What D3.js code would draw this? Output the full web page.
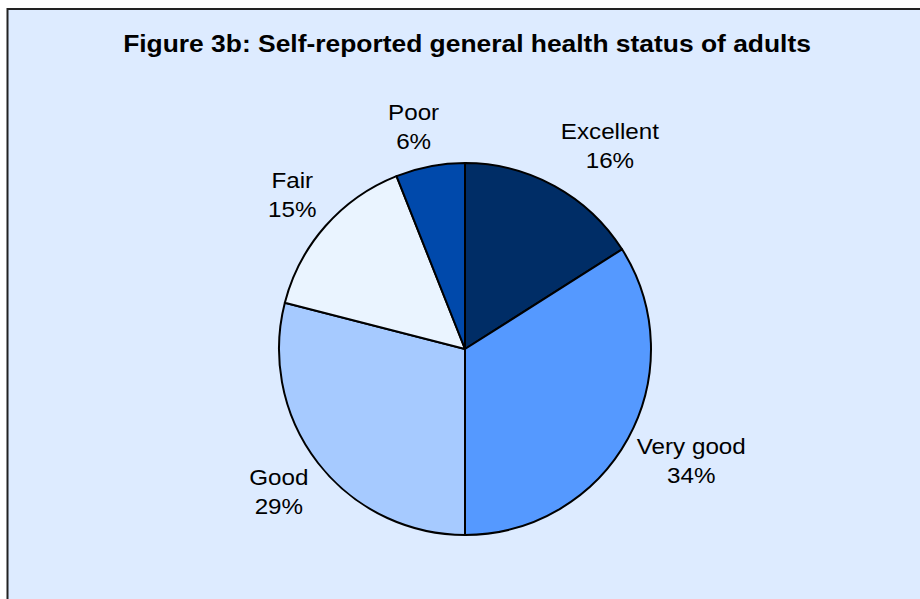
<!DOCTYPE html>
<html>
<head>
<meta charset="utf-8">
<script src="https://cdn.jsdelivr.net/npm/d3@7"></script>
<style>
  body { margin: 0; background: #fff; }
  text { font-family: Arial, "Liberation Sans", sans-serif; fill: #000; }
</style>
</head>
<body>
<div id="chart"></div>
<script>
(function () {

  // Data
  const categories = ["Excellent", "Very good", "Good", "Fair", "Poor"]
  const percents = [16, 34, 29, 15, 6]
  const colors = ["#002D66", "#5599FF", "#A6CAFF", "#EAF4FF", "#0049AB"]
  // small nudges for label placement (Excel style)
  const labelNudge = [[22, 1], [-2, 0], [0, 0], [0, 0], [-8, 7]]

  const width = 920
  const height = 599
  const stretch = 1.1 // text in the original is a bit wide

  const svg = d3.select("#chart").append("svg")
      .attr("width", width)
      .attr("height", height)

  // Chart area panel
  svg.append("rect")
    .attr("x", 7.5)
    .attr("y", 9)
    .attr("width", width)
    .attr("height", height)
    .attr("fill", "#DDEBFF")
    .attr("stroke", "#222")
    .attr("stroke-width", 2)

  // Title
  svg.append("g")
    .attr("transform", "translate(467,52) scale(" + stretch + ",1)")
    .append("text")
    .attr("text-anchor", "middle")
    .style("font-size", "24px")
    .style("font-weight", "bold")
    .text("Figure 3b: Self-reported general health status of adults")

  const cx = 465
  const cy = 349
  const radius = 186

  const pie = d3.pie().sort(null).value(d => d.value)
  const arc = d3.arc().innerRadius(0).outerRadius(radius)

  const data = categories.map((c, i) => ({ name: c, value: percents[i], color: colors[i], nudge: labelNudge[i] }))
  const arcs = pie(data)

  const g = svg.append("g")
    .attr("transform", "translate(" + cx + "," + cy + ")")

  g.selectAll("path")
    .data(arcs)
    .join("path")
    .attr("d", arc)
    .attr("fill", d => d.data.color)
    .attr("stroke", "#000")
    .attr("stroke-width", 2)
    .attr("stroke-linejoin", "round")

  // Labels outside the pie
  const pad = 20
  const lineH = 29
  const labels = g.selectAll("g.label")
    .data(arcs)
    .join("g")
    .attr("class", "label")

  labels.each(function (d) {
    const sel = d3.select(this)
    const t = sel.append("text")
      .attr("text-anchor", "middle")
      .style("font-size", "22px")
    t.append("tspan").attr("x", 0).attr("dy", 0).text(d.data.name)
    t.append("tspan").attr("x", 0).attr("dy", lineH).text(d.data.value + "%")
    const bb = t.node().getBBox()
    const w = bb.width * stretch
    const a = (d.startAngle + d.endAngle) / 2
    const ax = Math.sin(a) * (radius + pad)
    const ay = -Math.cos(a) * (radius + pad)
    const lx = ax + Math.sin(a) * w / 2 + d.data.nudge[0]
    const ly = ay - Math.cos(a) * bb.height / 2 + d.data.nudge[1]
    // center the two-line block on (lx, ly)
    const offY = ly - (bb.y + bb.height / 2)
    sel.attr("transform", "translate(" + lx + "," + offY + ") scale(" + stretch + ",1)")
  })

})();
</script>
</body>
</html>
